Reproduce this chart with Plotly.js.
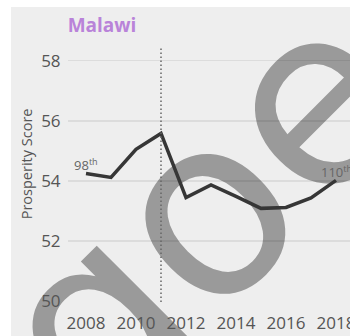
<!DOCTYPE html>
<html>
<head>
<meta charset="utf-8">
<script src="https://cdn.plot.ly/plotly-3.0.1.min.js"></script>
<style>
  html, body { margin:0; padding:0; width:350px; height:336px; overflow:hidden; background:#ffffff; }
  #bg { position:absolute; left:11px; top:7px; right:0; bottom:0; background:#eeeeee; }
  #wm { position:absolute; left:201px; top:213px; font-family:"DejaVu Sans"; font-size:250px; line-height:1;
        color:#9a9a9a; white-space:nowrap; transform-origin:0 0; transform:rotate(-45deg) translate(-50%,-50%); }
  #chart { position:absolute; left:0; top:0; width:370px; height:336px; }
</style>
</head>
<body>
<div id="bg"></div>
<div id="wm">ɑoe</div>
<div id="chart"></div>
<script>
const chartTitle = "Malawi";
const years = [2008, 2009, 2010, 2011, 2012, 2013, 2014, 2015, 2016, 2017, 2018];
const scores = [54.25, 54.12, 55.05, 55.58, 53.45, 53.87, 53.49, 53.09, 53.12, 53.44, 54.02];
const xTicks = [2008, 2010, 2012, 2014, 2016, 2018];
const yTicks = [50, 52, 54, 56, 58];
const markerYear = 2011;
const rankLabels = [{year: 2008, text: "98<sup>th</sup>"}, {year: 2018, text: "110<sup>th</sup>"}];
const yTitle = "Prosperity Score";

const font = "Open Sans";
const trace = {
  x: years, y: scores, type: "scatter", mode: "lines",
  line: {color: "#363636", width: 3.5},
  hoverinfo: "skip"
};

const annotations = rankLabels.map(r => ({
  x: r.year, y: scores[years.indexOf(r.year)], xref: "x", yref: "y",
  text: r.text, showarrow: false, xanchor: "center", yanchor: "bottom", yshift: -3,
  font: {family: font, size: 13, color: "#666666"}
}));
annotations.push({
  x: 0, y: 0.54, xref: "paper", yref: "paper", xshift: -42,
  text: yTitle, showarrow: false, textangle: -90, xanchor: "center", yanchor: "middle",
  font: {family: font, size: 14.5, color: "#555555"}
});

const layout = {
  width: 370, height: 336,
  margin: {l: 68, r: 14, t: 47, b: 34, pad: 0},
  paper_bgcolor: "rgba(0,0,0,0)", plot_bgcolor: "rgba(0,0,0,0)",
  showlegend: false,
  title: {
    text: "<b>" + chartTitle + "</b>",
    font: {family: font, size: 19, color: "#b983d9"},
    x: 102 / 370, xref: "container", xanchor: "center",
    y: 1 - 25 / 336, yref: "container", yanchor: "middle"
  },
  xaxis: {
    range: [2007.28, 2018.8], tickvals: xTicks, ticktext: xTicks.map(String),
    showgrid: false, zeroline: false, showline: false,
    ticks: "outside", ticklen: 6, tickcolor: "rgba(0,0,0,0)",
    tickfont: {family: font, size: 17, color: "#555555"}
  },
  yaxis: {
    range: [49.98, 58.45], tickvals: yTicks, ticktext: yTicks.map(String),
    showgrid: true, gridcolor: "rgba(0,0,0,0.075)", gridwidth: 1.5,
    zeroline: false, showline: false,
    ticks: "outside", ticklen: 3, tickcolor: "rgba(0,0,0,0)",
    tickfont: {family: font, size: 17, color: "#555555"}
  },
  shapes: [{
    type: "line", xref: "x", yref: "paper", x0: markerYear, x1: markerYear, y0: 0, y1: 1,
    line: {color: "#666666", width: 1.5, dash: "1.5px,2.5px"}
  }],
  annotations: annotations
};

Plotly.newPlot("chart", [trace], layout, {displayModeBar: false, staticPlot: true});
</script>
</body>
</html>
